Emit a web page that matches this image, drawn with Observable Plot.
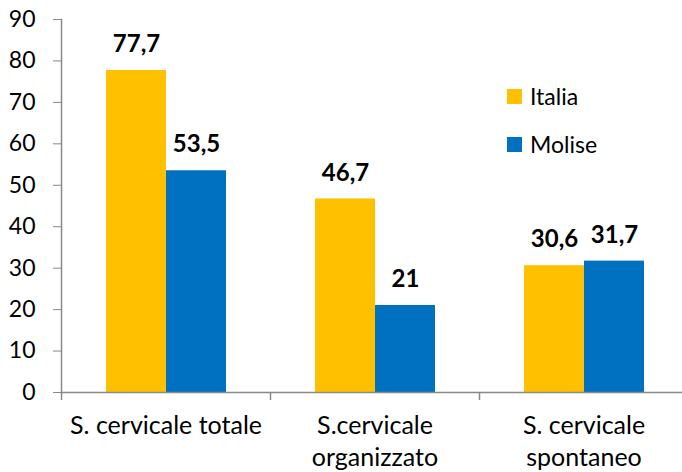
<!DOCTYPE html>
<html>
<head>
<meta charset="utf-8">
<script src="https://cdn.jsdelivr.net/npm/d3@7"></script>
<script src="https://cdn.jsdelivr.net/npm/@observablehq/plot@0.6"></script>
<style>
  html, body { margin: 0; padding: 0; background: #fff; }
  #wrap { position: relative; width: 682px; height: 472px; font-family: Lato, sans-serif; }
  #legend { position: absolute; left: 507px; top: 80px; font-size: 23px; color: #000; }
  #legend .item { display: flex; align-items: center; height: 32px; margin-bottom: 16px; }
  #legend .sw { width: 15px; height: 15px; margin-right: 8px; }
</style>
</head>
<body>
<div id="wrap"><div id="legend"></div></div>
<script>
const categories = ["S. cervicale totale", "S.cervicale\norganizzato", "S. cervicale\nspontaneo"];
const series = ["Italia", "Molise"];
const italia = [77.7, 46.7, 30.6];
const molise = [53.5, 21, 31.7];
const yTicks = [0, 10, 20, 30, 40, 50, 60, 70, 80, 90];
const colors = ["#FFC000", "#0070C0"];

const values = [italia, molise];
const data = [];
categories.forEach((c, i) => series.forEach((s, j) => data.push({cat: c, series: s, value: values[j][i]})));

const W = 682, H = 472, mL = 61, mR = -6, mT = 19, mB = 80;
const band = (W - mL - mR) / categories.length;
const gray = "#898989";

const chart = Plot.plot({
  width: W, height: H,
  marginLeft: mL, marginRight: mR, marginTop: mT, marginBottom: mB,
  style: {fontFamily: "Lato, sans-serif", fontSize: "23px", color: "#000", background: "#fff", overflow: "visible"},
  fx: {domain: categories, padding: 0, label: null},
  x: {domain: series, paddingInner: 0, paddingOuter: 0.74, axis: null},
  y: {domain: [0, 90], label: null},
  color: {domain: series, range: colors},
  marks: [
    Plot.barY(data, {fx: "cat", x: "series", y: "value", fill: "series"}),
    Plot.text(data, {fx: "cat", x: "series", y: "value", text: d => String(d.value).replace(".", ","), dy: -26, fontWeight: "bold", fontSize: 24, fill: "#000"}),
    Plot.ruleY([0], {stroke: gray, strokeWidth: 1.5}),
    Plot.frame({anchor: "left", facetAnchor: "left", stroke: gray, strokeWidth: 1.5}),
    Plot.axisY({ticks: yTicks, tickSize: 8, tickPadding: 18, stroke: gray, fill: "#000", label: null}),
    Plot.axisFx({anchor: "bottom", text: null, tickSize: 8, dx: -band / 2, stroke: gray, strokeWidth: 1.5, label: null}),
    Plot.axisFx({anchor: "bottom", tickSize: 0, tickPadding: 18, fontSize: 25, lineHeight: 1.3, fill: "#000", label: null})
  ]
});
document.getElementById("wrap").prepend(chart);

const legend = document.getElementById("legend");
series.forEach((s, i) => {
  const item = document.createElement("div");
  item.className = "item";
  const sw = document.createElement("div");
  sw.className = "sw";
  sw.style.background = colors[i];
  const t = document.createElement("span");
  t.textContent = s;
  item.append(sw, t);
  legend.append(item);
});
</script>
</body>
</html>
